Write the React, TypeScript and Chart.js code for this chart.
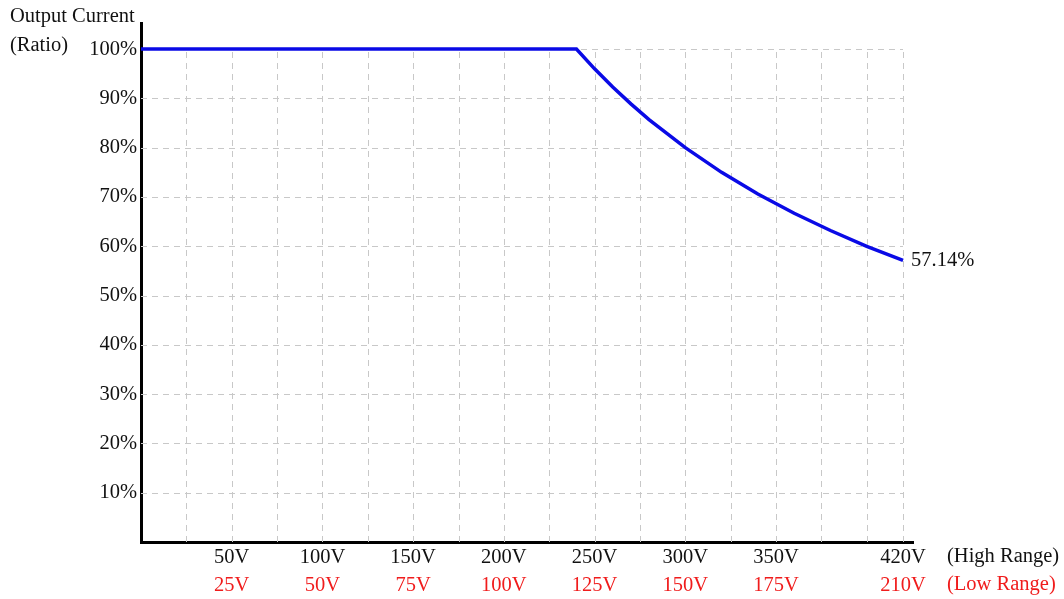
import React, { useEffect, useRef } from "react";
import { Chart, registerables } from "chart.js";

Chart.register(...registerables);

// High-range voltage (V) and output current ratio (%)
const voltages = [0, 240, 250, 260, 270, 280, 300, 320, 340, 360, 380, 400, 420];
const currentRatio = [100, 100, 96, 92.3, 88.9, 85.7, 80, 75, 70.6, 66.7, 63.2, 60, 57.14];
const highRangeTicks = [50, 100, 150, 200, 250, 300, 350, 420];
const lowRangeLabels = ["25V", "50V", "75V", "100V", "125V", "150V", "175V", "210V"];
const yTicks = [10, 20, 30, 40, 50, 60, 70, 80, 90, 100];
const xGridValues = [25, 50, 75, 100, 125, 150, 175, 200, 225, 250, 275, 300, 325, 350, 375, 400, 420];
const endLabel = "57.14%";

const FONT = "'Liberation Serif', 'Times New Roman', serif";
const RED = "#f01c1c";
const TEXT = "#111111";

export default function App() {
  const ref = useRef<HTMLCanvasElement | null>(null);

  useEffect(() => {
    if (!ref.current) return;

    const gridPlugin = {
      id: "customGrid",
      beforeDatasetsDraw(chart: any) {
        const { ctx, scales } = chart;
        const x = scales.x;
        const y = scales.y;
        ctx.save();
        ctx.strokeStyle = "#c8c8c8";
        ctx.lineWidth = 1;
        ctx.setLineDash([6, 5]);
        const x0 = x.getPixelForValue(0);
        const x1 = x.getPixelForValue(420);
        const y0 = y.getPixelForValue(0);
        const y1 = y.getPixelForValue(100);
        for (const v of yTicks) {
          const py = Math.round(y.getPixelForValue(v)) + 0.5;
          ctx.beginPath();
          ctx.moveTo(x0, py);
          ctx.lineTo(x1, py);
          ctx.stroke();
        }
        for (const v of xGridValues) {
          const px = Math.round(x.getPixelForValue(v)) + 0.5;
          ctx.beginPath();
          ctx.moveTo(px, y0);
          ctx.lineTo(px, y1);
          ctx.stroke();
        }
        ctx.restore();
      },
      afterDraw(chart: any) {
        const { ctx, scales } = chart;
        const x = scales.x;
        const y = scales.y;
        ctx.save();
        ctx.font = `20.5px ${FONT}`;
        ctx.textBaseline = "middle";
        ctx.textAlign = "left";
        ctx.fillStyle = TEXT;
        ctx.fillText("Output Current", 10, 17);
        ctx.fillText("(Ratio)", 10, 46);
        const lastX = x.getPixelForValue(voltages[voltages.length - 1]);
        const lastY = y.getPixelForValue(currentRatio[currentRatio.length - 1]);
        ctx.fillText(endLabel, lastX + 8, lastY);
        const rx = x.getPixelForValue(420) + 44;
        ctx.fillText("(High Range)", rx, 557);
        ctx.fillStyle = RED;
        ctx.fillText("(Low Range)", rx, 585);
        ctx.restore();
      },
    };

    const chart = new Chart(ref.current, {
      type: "line",
      data: {
        datasets: [
          {
            data: voltages.map((v, i) => ({ x: v, y: currentRatio[i] })),
            borderColor: "#0a0ae6",
            borderWidth: 3.5,
            pointRadius: 0,
            tension: 0,
            fill: false,
          },
        ],
      },
      options: {
        animation: false,
        responsive: false,
        devicePixelRatio: 1,
        layout: { padding: { left: 0, top: 23, right: 151, bottom: 0 } },
        plugins: { legend: { display: false }, tooltip: { enabled: false } },
        scales: {
          x: {
            type: "linear",
            position: "bottom",
            weight: 0,
            min: 0,
            max: 425.5,
            grid: { display: false, drawTicks: false },
            border: { display: true, color: "#000", width: 3 },
            afterBuildTicks: (s: any) => {
              s.ticks = highRangeTicks.map((v) => ({ value: v }));
            },
            afterFit: (s: any) => {
              s.height = 28;
            },
            ticks: {
              autoSkip: false,
              maxRotation: 0,
              padding: 3,
              color: TEXT,
              font: { family: FONT, size: 20.5 },
              callback: (v: any) => `${v}V`,
            },
          },
          x2: {
            type: "linear",
            position: "bottom",
            weight: 1,
            min: 0,
            max: 425.5,
            grid: { display: false, drawTicks: false },
            border: { display: false },
            afterBuildTicks: (s: any) => {
              s.ticks = highRangeTicks.map((v) => ({ value: v }));
            },
            afterFit: (s: any) => {
              s.height = 29;
            },
            ticks: {
              autoSkip: false,
              maxRotation: 0,
              padding: 3,
              color: RED,
              font: { family: FONT, size: 20.5 },
              callback: (v: any) => {
                const i = highRangeTicks.indexOf(Number(v));
                return i >= 0 ? lowRangeLabels[i] : "";
              },
            },
          },
          y: {
            type: "linear",
            min: 0,
            max: 105.3,
            grid: { display: false, drawTicks: false },
            border: { display: true, color: "#000", width: 3 },
            afterBuildTicks: (s: any) => {
              s.ticks = yTicks.map((v) => ({ value: v }));
            },
            afterFit: (s: any) => {
              s.width = 141;
            },
            ticks: {
              autoSkip: false,
              padding: 4,
              color: TEXT,
              font: { family: FONT, size: 20.5 },
              callback: (v: any) => `${v}%`,
            },
          },
        },
      },
      plugins: [gridPlugin],
    } as any);

    return () => chart.destroy();
  }, []);

  return (
    <div style={{ position: "fixed", left: 0, top: 0, width: 1064, height: 599, background: "#fff" }}>
      <canvas ref={ref} width={1064} height={599} style={{ display: "block" }} />
    </div>
  );
}
